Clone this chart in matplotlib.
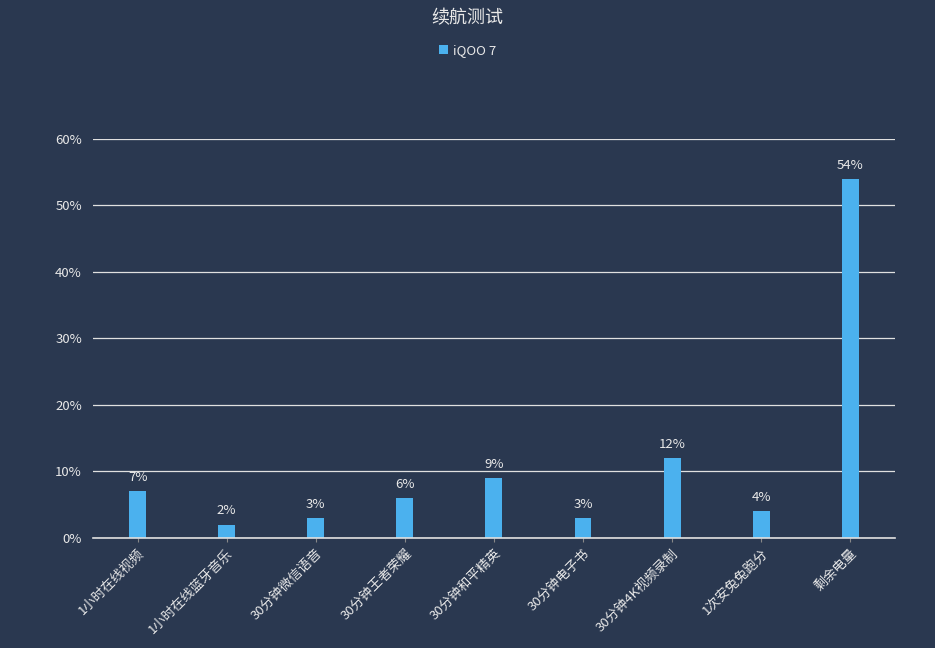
import matplotlib.pyplot as plt
from matplotlib.ticker import FuncFormatter

plt.rcParams['font.family'] = ['Noto Sans CJK SC', 'DejaVu Sans']

categories = ['1小时在线视频', '1小时在线蓝牙音乐', '30分钟微信语音', '30分钟王者荣耀',
              '30分钟和平精英', '30分钟电子书', '30分钟4K视频录制', '1次安兔兔跑分', '剩余电量']
values = [7, 2, 3, 6, 9, 3, 12, 4, 54]
series_name = 'iQOO 7'
yticks = [0, 10, 20, 30, 40, 50, 60]

bg = '#2a3850'
bar_color = '#4bb1ee'
text_color = '#e8e8e8'

fig = plt.figure(figsize=(9.35, 6.48), dpi=100, facecolor=bg)
ax = fig.add_axes([0.0995, 0.1698, 0.8575, 0.6157], facecolor=bg)

x = range(len(categories))
bars = ax.bar(x, values, width=0.19, color=bar_color, zorder=3, label=series_name)
for xi, v in zip(x, values):
    ax.text(xi, v + 1.1, f'{v}%', ha='center', va='bottom', color=text_color, fontsize=9.5)

ax.set_xlim(-0.5, len(categories) - 0.5)
ax.set_ylim(0, 60)
ax.set_yticks(yticks)
ax.yaxis.set_major_formatter(FuncFormatter(lambda v, p: f'{int(v)}%'))
ax.grid(axis='y', color='#e0e0e0', linewidth=0.9, zorder=0)
ax.axhline(0, color='#e0e0e0', linewidth=1.2, zorder=4, clip_on=False)
for s in ax.spines.values():
    s.set_visible(False)
ax.tick_params(axis='y', length=0, colors=text_color, labelsize=9.5, pad=8)
ax.tick_params(axis='x', length=3, colors='#888888', labelcolor=text_color, labelsize=9.5)
ax.set_xticks(list(x))
ax.set_xticklabels(categories, rotation=45, ha='right', rotation_mode='anchor')

fig.text(0.5, 0.972, '续航测试', ha='center', va='center', color=text_color, fontsize=13)
leg = fig.legend(loc='center', bbox_to_anchor=(0.5, 0.922), frameon=False, fontsize=9.5,
                 handlelength=0.7, handleheight=0.7, handletextpad=0.4)
for t in leg.get_texts():
    t.set_color(text_color)

fig.savefig('out.png', dpi=100, facecolor=bg)
